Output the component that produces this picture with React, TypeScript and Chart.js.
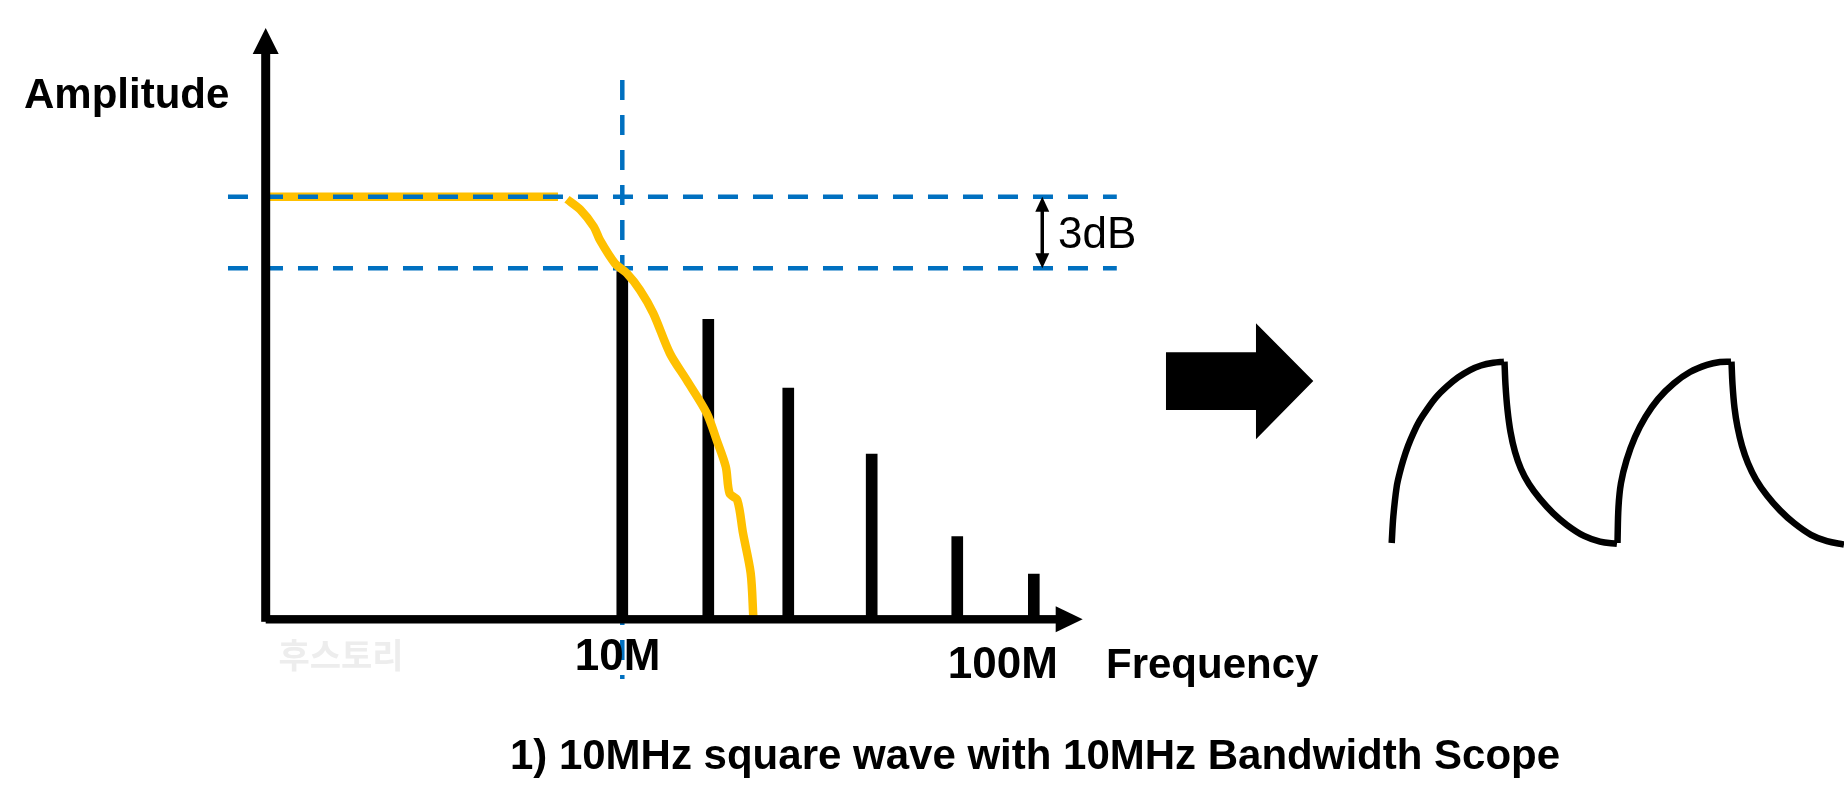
import React, { useEffect, useRef } from 'react';
import { Chart, registerables } from 'chart.js';

Chart.register(...registerables);

// ---------- Spectrum (x: frequency in MHz, y: relative amplitude) ----------
const harmonicFreqs = [10, 30, 48.6, 68, 87.9, 105.7];
const harmonicAmps = [0.823, 0.71, 0.547, 0.391, 0.196, 0.107];

// scope response: flat pass band, then roll-off
const passbandFreqs = [-73.1, -4.95];
const passbandAmps = [1, 1];
const rolloffFreqs = [-2.86, 0.26, 3.37, 4.81, 8.3, 11.02, 14.12, 17.21, 21.09, 24.98, 29.63, 31.95, 34.07, 34.95, 36.74, 38.07, 39.86, 40.47];
const rolloffAmps = [0.994, 0.969, 0.929, 0.897, 0.842, 0.819, 0.779, 0.724, 0.629, 0.566, 0.488, 0.424, 0.361, 0.298, 0.282, 0.204, 0.109, 0.006];

// reference (0 dB / -3 dB) levels and the cut-off marker
const refLevelAmps = [1, 0.8306];
const refLineFreqRange = [-81.7, 125];
const cutoffFreq = 10;
const cutoffLineAmpRange = [1.276, -0.141];

// ---------- Scope waveform (x: time in ns, y: normalised voltage) ----------
const rise1Times = [0, 0.71, 2.23, 3.56, 5.16, 7.26, 9.62, 12.38, 15.58, 19.72, 24.49, 29.52, 34.86, 39.76, 45.24, 50];
const rise1Volts = [0, 0.145, 0.311, 0.386, 0.458, 0.535, 0.605, 0.673, 0.734, 0.803, 0.862, 0.913, 0.954, 0.979, 0.994, 1.0];
const fall1Times = [50.22, 50.67, 51.56, 52.89, 54.9, 57.57, 61.13, 66.03, 71.82, 78.05, 85.62, 92.74, 100.31];
const fall1Volts = [1.0, 0.871, 0.734, 0.613, 0.502, 0.408, 0.325, 0.243, 0.165, 0.099, 0.039, 0.008, -0.005];
const rise2Times = [100.53, 100.98, 102.09, 104.58, 108.33, 113.05, 118.57, 125.69, 132.81, 140.38, 146.17, 151.07];
const rise2Volts = [0, 0.2, 0.331, 0.458, 0.585, 0.697, 0.794, 0.881, 0.943, 0.982, 0.998, 1.0];
const fall2Times = [151.29, 151.74, 152.63, 153.96, 155.97, 158.64, 162.2, 167.1, 172.89, 179.12, 186.69, 193.81, 201.38];
const fall2Volts = [1.0, 0.875, 0.745, 0.64, 0.535, 0.44, 0.35, 0.262, 0.18, 0.11, 0.045, 0.01, -0.008];

// ---------- Text ----------
const yTitle = 'Amplitude';
const xTitle = 'Frequency';
const xTickLabels = ['10M', '100M'];
const xTickFreqs = [8.9, 98.5];
const bandLabel = '3dB';
const caption = '1) 10MHz square wave with 10MHz Bandwidth Scope';
const watermark = '후스토리';

const LATIN = '"Liberation Sans", Arial, sans-serif';
const BLUE = '#0070C0';
const YELLOW = '#FFC000';

const pts = (xs: number[], ys: number[]) => xs.map((x, i) => ({ x, y: ys[i] }));

const diagramPlugin = {
  id: 'diagram',
  afterDatasetsDraw(chart: any) {
    const { ctx } = chart;
    const xs = chart.scales.x;
    const ys = chart.scales.y;
    const X = (v: number) => xs.getPixelForValue(v);
    const Y = (v: number) => ys.getPixelForValue(v);
    ctx.save();
    ctx.fillStyle = '#000';
    ctx.strokeStyle = '#000';

    // axes with arrow heads
    const ax = X(-72.93);
    const ay = Y(0);
    const yTop = Y(1.399);
    const xEnd = X(117.07);
    ctx.fillRect(ax - 4.5, yTop + 25, 9, ay + 2.5 - (yTop + 25));
    ctx.beginPath();
    ctx.moveTo(ax, yTop);
    ctx.lineTo(ax + 13, yTop + 26);
    ctx.lineTo(ax - 13, yTop + 26);
    ctx.closePath();
    ctx.fill();
    ctx.fillRect(ax, ay - 4.2, xEnd - 26 - ax, 8.4);
    ctx.beginPath();
    ctx.moveTo(xEnd, ay);
    ctx.lineTo(xEnd - 27, ay - 13);
    ctx.lineTo(xEnd - 27, ay + 13);
    ctx.closePath();
    ctx.fill();

    // 3 dB double arrow
    const bx = X(107.67);
    const b1 = Y(refLevelAmps[0]);
    const b2 = Y(refLevelAmps[1]);
    ctx.lineWidth = 3.5;
    ctx.beginPath();
    ctx.moveTo(bx, b1 + 10);
    ctx.lineTo(bx, b2 - 10);
    ctx.stroke();
    ctx.beginPath();
    ctx.moveTo(bx, b1);
    ctx.lineTo(bx + 7, b1 + 15);
    ctx.lineTo(bx - 7, b1 + 15);
    ctx.closePath();
    ctx.fill();
    ctx.beginPath();
    ctx.moveTo(bx, b2);
    ctx.lineTo(bx + 7, b2 - 15);
    ctx.lineTo(bx - 7, b2 - 15);
    ctx.closePath();
    ctx.fill();

    // big block arrow
    ctx.beginPath();
    ctx.moveTo(X(136.44), Y(0.6318));
    ctx.lineTo(X(157.37), Y(0.6318));
    ctx.lineTo(X(157.37), Y(0.7004));
    ctx.lineTo(X(170.7), Y(0.5639));
    ctx.lineTo(X(157.37), Y(0.4259));
    ctx.lineTo(X(157.37), Y(0.4953));
    ctx.lineTo(X(136.44), Y(0.4953));
    ctx.closePath();
    ctx.fill();

    // texts
    ctx.textBaseline = 'alphabetic';
    ctx.font = `bold 42px ${LATIN}`;
    ctx.textAlign = 'left';
    ctx.fillText(yTitle, X(-129.14), Y(1.2099));
    ctx.fillText(xTitle, X(122.49), Y(-0.1396));

    ctx.textAlign = 'center';
    ctx.font = `bold 44px ${LATIN}`;
    ctx.fillText(xTickLabels[0], X(xTickFreqs[0]), Y(-0.12));
    ctx.fillText(xTickLabels[1], X(xTickFreqs[1]), Y(-0.1396));

    ctx.textAlign = 'left';
    ctx.font = `44px ${LATIN}`;
    ctx.fillText(bandLabel, X(111.35), Y(0.8779));

    ctx.textAlign = 'center';
    ctx.font = `bold 42px ${LATIN}`;
    ctx.fillText(caption, X(105.98), Y(-0.355));

    ctx.fillStyle = '#ededed';
    ctx.textBaseline = 'middle';
    ctx.font = 'bold 34px "Noto Sans CJK KR", sans-serif';
    ctx.fillText(watermark, X(-55.4), Y(-0.0845));
    ctx.restore();
  },
};

export default function App() {
  const canvasRef = useRef<HTMLCanvasElement | null>(null);

  useEffect(() => {
    if (!canvasRef.current) return;
    const lineBase = { type: 'line', pointRadius: 0, fill: false, borderCapStyle: 'butt' };
    const waveArc = (t: number[], v: number[]) => ({
      ...lineBase,
      data: pts(t, v),
      borderColor: '#000',
      borderWidth: 6.5,
      tension: 0.35,
      xAxisID: 'xw',
      yAxisID: 'yw',
      order: 0,
    });
    const chart = new Chart(canvasRef.current, {
      type: 'line',
      data: {
        datasets: [
          {
            ...lineBase,
            data: pts(passbandFreqs, passbandAmps),
            borderColor: YELLOW,
            borderWidth: 8.5,
            order: 4,
          },
          ...refLevelAmps.map((a) => ({
            ...lineBase,
            data: pts(refLineFreqRange, [a, a]),
            borderColor: BLUE,
            borderWidth: 4.5,
            borderDash: [20, 15],
            order: 3,
          })),
          {
            ...lineBase,
            data: pts([cutoffFreq, cutoffFreq], cutoffLineAmpRange),
            borderColor: BLUE,
            borderWidth: 4.5,
            borderDash: [20, 15],
            order: 3,
          },
          {
            type: 'bar',
            data: pts(harmonicFreqs, harmonicAmps),
            backgroundColor: '#000',
            borderWidth: 0,
            barThickness: 11,
            grouped: false,
            order: 2,
          },
          {
            ...lineBase,
            data: pts(rolloffFreqs, rolloffAmps),
            borderColor: YELLOW,
            borderWidth: 8.5,
            tension: 0.3,
            order: 1,
          },
          waveArc(rise1Times, rise1Volts),
          waveArc(fall1Times, fall1Volts),
          waveArc(rise2Times, rise2Volts),
          waveArc(fall2Times, fall2Volts),
        ] as any,
      },
      options: {
        animation: false,
        responsive: false,
        devicePixelRatio: 1,
        events: [],
        layout: { padding: 0 },
        plugins: { legend: { display: false }, tooltip: { enabled: false } },
        scales: {
          x: { type: 'linear', min: -134.72, max: 294.12, display: false, offset: false },
          y: { type: 'linear', min: -0.42996, max: 1.46545, display: false },
          xw: { type: 'linear', axis: 'x', min: -619.63, max: 201.38, display: false },
          yw: { type: 'linear', axis: 'y', min: -1.4231, max: 2.995, display: false },
        },
      } as any,
      plugins: [diagramPlugin],
    });
    return () => chart.destroy();
  }, []);

  return (
    <div style={{ position: 'fixed', left: 0, top: 0, width: 1844, height: 801, background: '#fff' }}>
      <canvas ref={canvasRef} width={1844} height={801} style={{ display: 'block' }} />
    </div>
  );
}
